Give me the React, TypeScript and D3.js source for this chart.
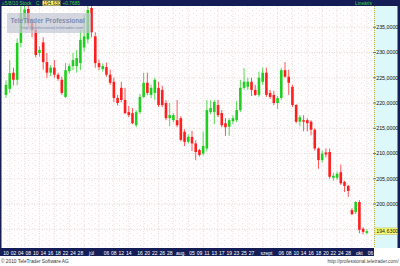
import React from "react";
import * as d3 from "d3";

const W = 400;
const H = 266;

// OHLC per trading day (price)
const opens = [221.6,222.8,226.0,224.6,231.9,236.5,238.6,235.8,234.5,229.9,232.0,228.1,226.0,227.0,225.6,224.6,221.2,226.3,227.3,227.3,227.9,231.0,232.6,238.8,233.2,227.9,226.7,227.1,225.6,224.2,221.0,223.0,220.6,218.2,218.0,215.6,218.2,221.2,224.0,221.6,222.0,223.0,222.6,220.0,217.0,216.6,216.6,217.0,214.3,212.3,213.3,212.0,210.7,210.0,211.0,218.2,218.2,219.6,218.0,216.0,215.3,216.4,216.6,218.6,223.0,223.2,224.2,222.6,221.6,224.2,226.0,222.0,221.6,220.0,221.0,226.5,225.2,223.2,219.6,216.3,216.6,216.6,216.3,214.7,211.0,208.7,210.2,210.3,205.2,205.2,206.3,204.4,203.6,198.8,198.4,200.4,195.1,194.3];
const highs = [224.5,228.5,227.0,232.8,239.2,239.2,239.2,236.8,235.8,231.2,233.0,229.9,227.5,228.5,226.0,225.2,227.9,227.8,229.9,230.5,234.5,237.5,239.2,239.2,234.0,228.6,227.8,228.0,226.6,225.0,221.6,224.2,223.0,219.4,219.0,218.6,221.8,226.0,226.0,223.6,225.0,224.2,223.4,220.6,220.0,218.0,220.6,217.4,214.8,213.8,214.5,212.6,210.9,214.3,220.6,220.5,220.6,220.6,218.6,217.0,217.0,217.6,220.4,224.6,226.9,225.0,225.0,223.6,226.2,227.0,227.0,222.6,222.4,221.4,227.0,228.1,226.6,223.6,219.8,217.6,217.6,217.0,216.6,215.0,211.2,210.6,211.0,211.0,206.2,206.4,207.8,204.6,203.8,199.2,200.6,200.8,195.4,195.0];
const lows = [221.0,222.0,223.5,223.5,231.0,235.5,235.0,233.0,229.0,229.2,226.6,225.0,225.3,225.0,224.4,221.6,221.0,225.8,226.5,226.0,226.5,230.2,231.8,233.0,227.0,226.5,226.2,225.2,223.6,220.2,219.5,220.2,217.8,217.2,215.8,215.2,217.8,221.0,221.6,221.0,220.6,219.2,219.2,216.6,215.4,216.2,215.2,212.4,211.5,212.0,210.5,208.7,209.4,209.6,210.4,217.8,215.8,217.2,215.2,213.5,213.5,215.8,216.2,218.2,222.6,222.6,221.4,221.4,221.2,223.6,221.2,220.8,219.6,218.8,220.6,225.0,221.6,219.2,216.0,215.4,214.4,214.4,213.6,210.6,207.0,208.2,209.2,205.0,204.6,204.8,203.8,202.4,201.4,197.8,198.0,194.2,194.0,194.0];
const closes = [223.6,225.9,224.6,231.9,237.8,238.5,235.8,234.4,229.5,230.5,228.1,226.0,227.0,225.6,224.8,222.0,226.5,227.3,228.5,228.9,232.5,233.2,238.4,234.0,227.9,227.1,227.3,225.6,224.0,221.0,220.0,220.6,218.0,217.6,216.0,218.2,221.2,224.0,222.0,223.0,224.6,219.6,219.6,217.0,217.6,217.6,215.6,212.7,212.3,213.3,212.0,210.3,209.7,211.5,218.6,219.0,220.2,217.6,215.6,215.2,216.6,217.0,218.6,223.0,224.2,224.2,222.6,221.6,225.0,226.0,221.6,221.2,220.0,221.0,226.5,225.2,224.0,219.6,216.3,217.2,216.3,216.0,214.7,211.0,208.7,210.0,209.8,205.4,205.6,206.0,204.1,203.6,202.6,198.0,200.4,194.9,194.5,194.63];

// date axis labels and the trading-day slot they sit under
const tickLabels = ["10","02","04","08","10","14","16","18","22","24","28","júl","06","08","12","14","16","20","22","26","28","aug.","05","09","11","13","17","19","23","25","27","szept","06","08","10","14","16","18","20","22","24","28","okt","06"];
const tickSlots = [0,2,4,6,8,10,12,14,16,18,20,23,27,29,31,33,36,38,40,42,44,47,50,52,54,56,58,60,62,64,66,70,74,76,78,80,82,84,86,88,90,92,95,98];

// price axis
const priceTicks = [200, 205, 210, 215, 220, 225, 230, 235];
const gridPrices = [195, 200, 205, 210, 215, 220, 225, 230, 235];
const lastPrice = 194.63;

const FONT = "'Liberation Sans', Arial, sans-serif";
const NAVY = "#141d55";
const GREEN = "#1fcf1f";
const RED = "#ff1e1e";

const PLOT_L = 1.5;
const PLOT_R = 374;
const PLOT_T = 6;
const PLOT_B = 248;

const fmtPrice = (v: number) => v.toFixed(4).replace(".", ",");

export default function App() {
  const n = opens.length;
  const x = d3.scaleLinear().domain([0, n - 1]).range([6, 366.84]);
  const y = d3.scaleLinear().domain([191.3, 239.2]).range([PLOT_B, PLOT_T]);
  const bw = 2.6;

  const vGridSlots = d3.range(1, n + 1, 4);

  return (
    <svg
      width={W}
      height={H}
      viewBox={`0 0 ${W} ${H}`}
      style={{ position: "absolute", left: 0, top: 0, display: "block", background: "#fff" }}
      fontFamily={FONT}
    >
      <defs>
        <pattern id="dots" width="7" height="5" patternUnits="userSpaceOnUse">
          <rect width="7" height="5" fill="#fffdfd" />
          <rect x="0" y="0" width="1" height="1" fill="#f4e2e2" />
          <rect x="4" y="3" width="1" height="1" fill="#f1e6e6" />
        </pattern>
        <clipPath id="plotClip">
          <rect x={PLOT_L} y={PLOT_T} width={PLOT_R - PLOT_L} height={PLOT_B - PLOT_T} />
        </clipPath>
      </defs>

      {/* plot background */}
      <rect x={PLOT_L} y={PLOT_T} width={PLOT_R - PLOT_L} height={PLOT_B - PLOT_T} fill="url(#dots)" />

      {/* grid */}
      <g stroke="#ddd0d0" strokeWidth={0.8} strokeDasharray="1,1.5">
        {gridPrices.map((p) => (
          <line key={"h" + p} x1={PLOT_L} x2={PLOT_R} y1={y(p)} y2={y(p)} />
        ))}
        {vGridSlots.map((s) => (
          <line key={"v" + s} x1={x(s)} x2={x(s)} y1={PLOT_T} y2={PLOT_B} opacity={0.8} />
        ))}
      </g>

      {/* candles */}
      <g clipPath="url(#plotClip)">
        {opens.map((o, i) => {
          const c = closes[i];
          const up = c >= o;
          const col = up ? GREEN : RED;
          const cx = x(i);
          const top = y(Math.max(o, c));
          const bot = y(Math.min(o, c));
          return (
            <g key={i}>
              <line x1={cx} x2={cx} y1={y(highs[i])} y2={y(lows[i])} stroke={col} strokeWidth={1} opacity={0.75} />
              <rect x={cx - bw / 2} y={top} width={bw} height={Math.max(1, bot - top)} fill={col} />
            </g>
          );
        })}
      </g>

      {/* watermark */}
      <g>
        <rect x={7} y={13} width={84} height={20} fill="#c3c7d2" opacity={0.72} />
        <text x={10.5} y={22.5} fontSize={6.6} fontWeight="bold" fill="#7f8db0">TeleTrader Professional</text>
        <text x={21} y={29} fontSize={4.3} fill="#7f8db0">http://professional.teletrader.com</text>
      </g>

      {/* left edge */}
      <rect x={0} y={PLOT_T} width={1.5} height={PLOT_B - PLOT_T} fill={NAVY} />

      {/* right price panel */}
      <rect x={PLOT_R} y={PLOT_T} width={W - PLOT_R - 2.5} height={PLOT_B - PLOT_T} fill="#dcf8fb" />
      <line x1={PLOT_R + 0.5} x2={PLOT_R + 0.5} y1={PLOT_T} y2={PLOT_B} stroke="#c6a93c" strokeWidth={1} strokeDasharray="1,1" />
      <rect x={W - 2.5} y={0} width={2.5} height={PLOT_B} fill={NAVY} />
      {priceTicks.map((p) => (
        <g key={"t" + p}>
          <line x1={PLOT_R - 1} x2={PLOT_R + 2} y1={y(p)} y2={y(p)} stroke="#555" strokeWidth={0.8} />
          <text x={PLOT_R + 2.2} y={y(p) + 1.9} fontSize={5.3} fill="#111">{fmtPrice(p)}</text>
        </g>
      ))}
      <rect x={PLOT_R + 1} y={y(lastPrice) - 3.2} width={22.5} height={6.4} fill="#ffff70" stroke="#b0a030" strokeWidth={0.4} />
      <text x={PLOT_R + 2.2} y={y(lastPrice) + 1.9} fontSize={5.3} fill="#111">{fmtPrice(lastPrice)}</text>

      {/* top bar */}
      <rect x={0} y={0} width={W} height={PLOT_T} fill={NAVY} />
      <text x={2} y={4.9} fontSize={4.8} fill="#35d835">≡5/8/10 Stock</text>
      <text x={36} y={4.9} fontSize={4.8} fill="#35d835">C:</text>
      <rect x={42.5} y={0.6} width={18} height={5} fill="#ffff70" />
      <text x={43.3} y={4.9} fontSize={4.8} fill="#111">{fmtPrice(lastPrice)}</text>
      <text x={62.5} y={4.9} fontSize={4.8} fill="#35d835">+0.7685</text>
      <text x={355} y={4.9} fontSize={4.8} fill="#35d835">Lineáris</text>

      {/* bottom date axis */}
      <rect x={0} y={PLOT_B} width={PLOT_R} height={8} fill={NAVY} />
      {tickLabels.map((t, i) => (
        <text key={"d" + i} x={x(tickSlots[i])} y={254.6} fontSize={5} fill="#fff" textAnchor="middle">{t}</text>
      ))}

      {/* footer */}
      <text x={1} y={262.5} fontSize={4.8} fill="#333">© 2010 TeleTrader Software AG</text>
      <text x={398.5} y={263} fontSize={4.8} fill="#444" textAnchor="end">http://professional.teletrader.com/</text>
    </svg>
  );
}
